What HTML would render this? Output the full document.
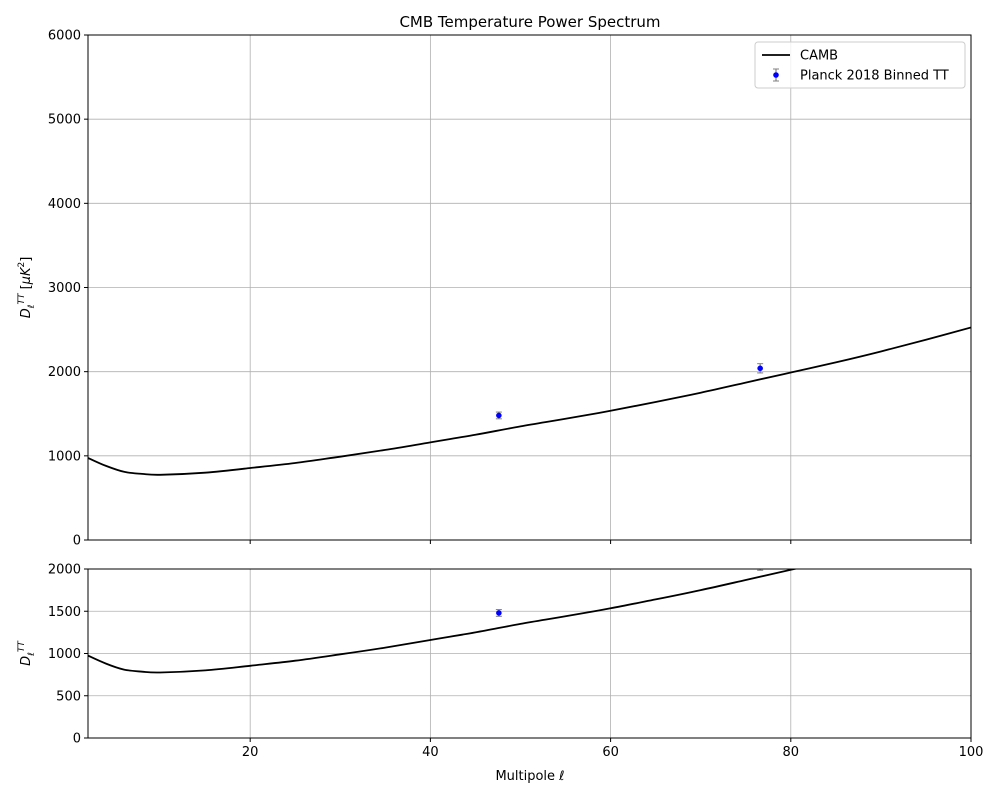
<!DOCTYPE html>
<html><head><meta charset="utf-8"><style>
body{margin:0;background:#fff;font-family:"Liberation Sans","DejaVu Sans",sans-serif;}
svg text{font-family:"DejaVu Sans","Liberation Sans",sans-serif;}
</style></head><body>
<svg id="chart" width="1000" height="800" xmlns="http://www.w3.org/2000/svg"></svg>
<script>
const ells=[2,4,6,8,10,15,20,25,30,35,40,45,50,55,60,65,70,75,80,85,90,95,100];
const camb=[975,880,810,785,775,800,855,915,990,1070,1160,1250,1350,1440,1535,1640,1750,1870,1990,2110,2240,2380,2525];
const dataEll=[47.6,76.6];
const dataD=[1480,2040];
const dataErr=[40,55];
const xTicks=[20,40,60,80,100];
const topTicks=[0,1000,2000,3000,4000,5000,6000];
const botTicks=[0,500,1000,1500,2000];

const NS="http://www.w3.org/2000/svg";
const svg=document.getElementById('chart');
const L=88,R=971;
const xs=v=>L+(v-2)/98*(R-L);
function mk(tag,attrs,parent){const e=document.createElementNS(NS,tag);for(const k in attrs)e.setAttribute(k,attrs[k]);(parent||svg).appendChild(e);return e;}
function smoothPath(pts){
  let d='M'+pts[0][0].toFixed(1)+','+pts[0][1].toFixed(1);
  for(let i=0;i<pts.length-1;i++){
    const p0=pts[Math.max(i-1,0)],p1=pts[i],p2=pts[i+1],p3=pts[Math.min(i+2,pts.length-1)];
    const c1=[p1[0]+(p2[0]-p0[0])/6,p1[1]+(p2[1]-p0[1])/6];
    const c2=[p2[0]-(p3[0]-p1[0])/6,p2[1]-(p3[1]-p1[1])/6];
    d+='C'+c1[0].toFixed(1)+','+c1[1].toFixed(1)+' '+c2[0].toFixed(1)+','+c2[1].toFixed(1)+' '+p2[0].toFixed(1)+','+p2[1].toFixed(1);
  }
  return d;
}
function panel(top,bot,ymax,ticks,name,ylabelHTML,showXLabels){
  const ys=v=>bot-v/ymax*(bot-top);
  const g=mk('g',{});
  
  
  const cp=mk('clipPath',{id:'c'+name},g);mk('rect',{x:L,y:top,width:R-L,height:bot-top},cp);
  xTicks.forEach(t=>{const l=mk('line',{x1:xs(t),x2:xs(t),y1:top,y2:bot,stroke:'#b0b0b0','stroke-width':0.8},g);
    
    mk('line',{x1:xs(t),x2:xs(t),y1:bot,y2:bot+4,stroke:'#000'},g);
    if(showXLabels){const tx=mk('text',{x:xs(t),y:bot+18,'text-anchor':'middle','font-size':13},g);tx.textContent=t;
      }});
  ticks.forEach(t=>{const l=mk('line',{x1:L,x2:R,y1:ys(t),y2:ys(t),stroke:'#b0b0b0','stroke-width':0.8},g);
    
    mk('line',{x1:L-4,x2:L,y1:ys(t),y2:ys(t),stroke:'#000'},g);
    const tx=mk('text',{x:L-7,y:ys(t)+4.5,'text-anchor':'end','font-size':13},g);tx.textContent=t;
    });
  const cg=mk('g',{'clip-path':'url(#c'+name+')'},g);
  const pts=ells.map((e,i)=>[xs(e),ys(camb[i])]);
  const p=mk('path',{d:smoothPath(pts),fill:'none',stroke:'#000','stroke-width':1.8},cg);
  
  dataEll.forEach((e,i)=>{const x=xs(e);
    const eb=mk('line',{x1:x,x2:x,y1:ys(dataD[i]+dataErr[i]),y2:ys(dataD[i]-dataErr[i]),stroke:'#808080','stroke-width':1.2},cg);
    
    [dataD[i]+dataErr[i],dataD[i]-dataErr[i]].forEach(v=>mk('line',{x1:x-3,x2:x+3,y1:ys(v),y2:ys(v),stroke:'#808080'},cg));
    const c=mk('circle',{cx:x,cy:ys(dataD[i]),r:2.8,fill:'#0000ff'},cg);
    });
  mk('rect',{x:L,y:top,width:R-L,height:bot-top,fill:'none',stroke:'#000','stroke-width':1},g);
  const yl=mk('text',{transform:`translate(${L-58},${(top+bot)/2}) rotate(-90)`,'text-anchor':'middle','font-size':13},g);
  yl.innerHTML=ylabelHTML;
}
panel(35,540,6000,topTicks,'top-panel','<tspan font-style="italic">D</tspan><tspan font-style="italic" font-size="9" dy="4">ℓ</tspan><tspan font-style="italic" font-size="9" dy="-10">TT</tspan><tspan dy="6"> [</tspan><tspan font-style="italic">μK</tspan><tspan font-size="9" dy="-6">2</tspan><tspan dy="6">]</tspan>',false);
panel(569,738,2000,botTicks,'bottom-panel','<tspan font-style="italic">D</tspan><tspan font-style="italic" font-size="9" dy="4">ℓ</tspan><tspan font-style="italic" font-size="9" dy="-10">TT</tspan>',true);
</script>
<svg style="position:absolute;left:0;top:0" width="1000" height="800">
<text x="530" y="27" text-anchor="middle" font-size="15">CMB Temperature Power Spectrum</text>
<text x="530" y="780" text-anchor="middle" font-size="13">Multipole <tspan font-style="italic">ℓ</tspan></text>
<g>
<rect x="755" y="42" width="210" height="46" rx="3" fill="#fff" fill-opacity="0.8" stroke="#ccc"/>
<line x1="762" x2="790" y1="55" y2="55" stroke="#000" stroke-width="1.8"/>
<text x="800" y="59.5" font-size="13">CAMB</text>
<line x1="776" x2="776" y1="69" y2="81" stroke="#808080" stroke-width="1.2"/>
<line x1="773" x2="779" y1="69" y2="69" stroke="#808080"/><line x1="773" x2="779" y1="81" y2="81" stroke="#808080"/>
<circle cx="776" cy="75" r="2.8" fill="#0000ff"/>
<text x="800" y="79.5" font-size="13">Planck 2018 Binned TT</text>
</g>
</svg>
</body></html>
